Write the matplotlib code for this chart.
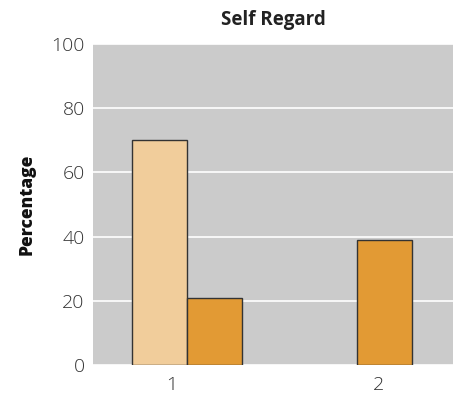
import numpy as np
import matplotlib
matplotlib.use('Agg')
import matplotlib.pyplot as plt

# Data
#---------------------------------
groups=['1','2']
series_a=[70,0]    # light bars
series_b=[21,39]   # dark bars
yticks=[0,20,40,60,80,100]
#---------------------------------

col_a='#f1cd9b';col_b='#e29a34'
bg='#cbcbcb';edge='#333333'

plt.rcParams['font.family']=['Open Sans','DejaVu Sans']

fig=plt.figure(figsize=(4.55,3.94),dpi=100)
ax=fig.add_axes([93/455,29/394,360/455,321/394])
ax.set_facecolor(bg)

centers=np.array([0,1])
w=0.324
#no outline on empty bars
lw_a=[1 if v>0 else 0 for v in series_a]
lw_b=[1 if v>0 else 0 for v in series_b]
ax.bar(centers-w/2,series_a,w,color=col_a,edgecolor=edge,linewidth=lw_a,zorder=3)
ax.bar(centers+w/2,series_b,w,color=col_b,edgecolor=edge,linewidth=lw_b,zorder=3)

ax.set_xlim(-0.553,1.565)
ax.set_ylim(0,100)
ax.set_yticks(yticks)
ax.set_xticks([-0.088,1.124])
ax.set_xticklabels(groups)
ax.tick_params(length=0,labelsize=14,colors='#333333',pad=8)
ax.tick_params(axis='y',pad=6)
for lab in ax.get_xticklabels()+ax.get_yticklabels():
    lab.set_fontweight('light')
ax.grid(axis='y',color='white',linewidth=1.2,zorder=1)
for s in ax.spines.values():
    s.set_visible(False)

ax.set_title('Self Regard',fontsize=13.5,fontweight='bold',color='#222222',pad=14)
ax.set_ylabel('Percentage',fontsize=12.5,fontweight='heavy',color='#111111',labelpad=11)

plt.savefig('out.png',dpi=100)
